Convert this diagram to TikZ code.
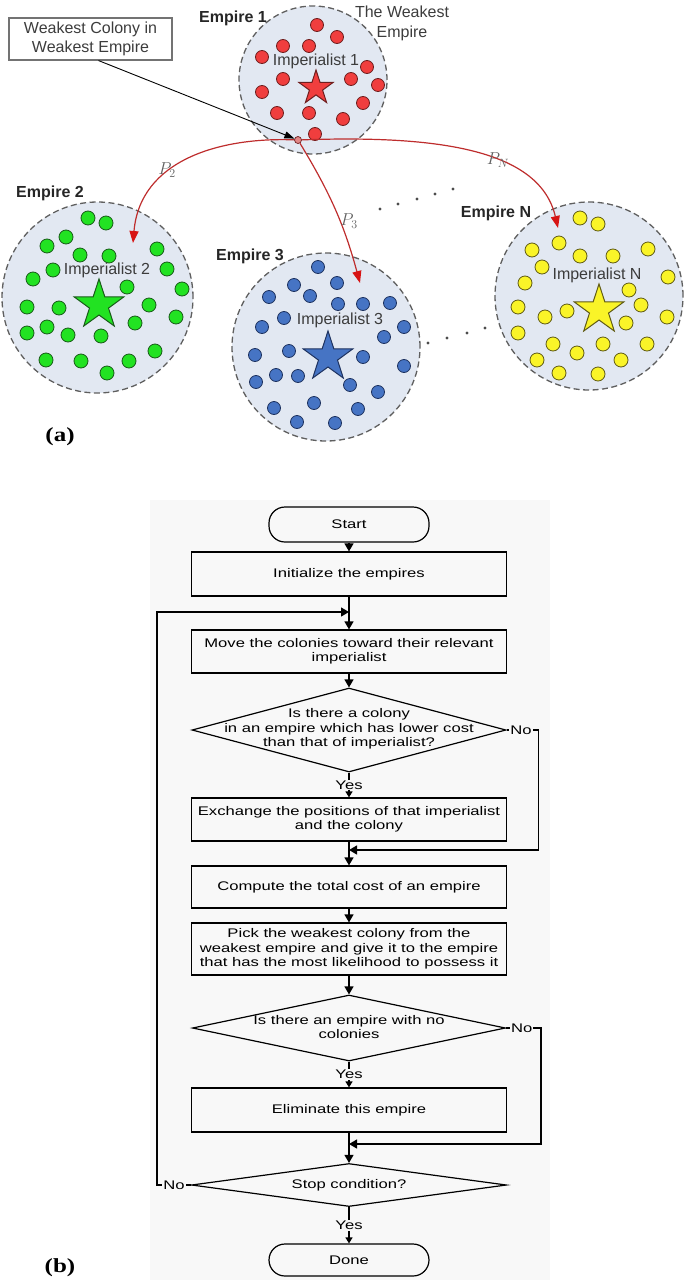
\documentclass[tikz,border=0pt]{standalone}
\usepackage{fontspec}
\setmainfont{Liberation Sans}
\newfontfamily\flowfont[FakeStretch=1.33]{Liberation Sans}
\newfontfamily\capfont[FakeStretch=1.25]{Liberation Serif}
\usetikzlibrary{shapes.geometric,arrows.meta}

\definecolor{empfill}{RGB}{226,232,242}
\definecolor{empline}{RGB}{95,95,95}
\definecolor{redfill}{RGB}{240,62,62}
\definecolor{redline}{RGB}{110,30,30}
\definecolor{grnfill}{RGB}{34,226,34}
\definecolor{grnline}{RGB}{25,90,25}
\definecolor{blufill}{RGB}{70,116,196}
\definecolor{bluline}{RGB}{30,50,95}
\definecolor{yelfill}{RGB}{250,244,40}
\definecolor{yelline}{RGB}{95,90,20}
\definecolor{pathred}{RGB}{190,45,45}
\definecolor{tipred}{RGB}{215,20,20}
\definecolor{txtgray}{RGB}{60,60,60}
\definecolor{flowbg}{RGB}{248,248,248}

\newcommand{\bigtext}{\fontsize{16}{19.5}\selectfont}
\newcommand{\flowtext}{\fontsize{12.5}{14.5}\selectfont\flowfont}

\tikzset{
  empire/.style={circle, draw=empline, fill=empfill, dash pattern=on 6pt off 3.5pt,
    line width=1.3pt, inner sep=0pt},
  imp/.style={star, star points=5, star point ratio=2.6, inner sep=0pt, line width=1pt},
  title/.style={font=\bigtext\bfseries, text=black!85},
  implabel/.style={font=\bigtext, text=txtgray},
  pathlbl/.style={font=\fontsize{18}{21}\selectfont, text=black!62},
  note/.style={draw=black!55, line width=1.1pt, minimum width=163pt, minimum height=42pt,
    align=center, font=\bigtext, text=txtgray},
  migrate/.style={draw=pathred, line width=1.2pt, -{Triangle[length=12pt,width=9pt,color=tipred]}},
  proc/.style={rectangle, draw, line width=1.2pt, minimum width=315pt, align=center, font=\flowtext},
  term/.style={rectangle, rounded corners=16pt, draw, line width=1.2pt, minimum width=160pt,
    font=\flowtext},
  decide/.style={diamond, draw, line width=1.2pt, inner sep=0pt},
  dtext/.style={align=center, font=\flowtext},
  flow/.style={line width=1.3pt, -{Triangle[length=8pt,width=9pt]}},
  yesflow/.style={line width=1.3pt, -{Triangle[length=6pt,width=7pt]}},
  flowlbl/.style={font=\flowtext, fill=flowbg, inner sep=1pt},
  sublbl/.style={font=\capfont\bfseries\fontsize{20}{23}\selectfont}
}

\begin{document}
\begin{tikzpicture}[x=1pt,y=-1pt]
\useasboundingbox (0,0) rectangle (685,1282);

%% (a) the empires
\node[empire, minimum size=148pt] (e1) at (313,80) {};
\node[empire, minimum size=191pt] (e2) at (97.5,297.5) {};
\node[empire, minimum size=188pt] (e3) at (326,347) {};
\node[empire, minimum size=188pt] (eN) at (589,296) {};

% colonies
\foreach \x/\y in {317/25,337/37,283/46,309/46,262/57,367/67,283/79,351/79,378/85,
    262/92,363/103,277/113,309/113,343/119,315/134}
  \filldraw[fill=redfill, draw=redline, line width=0.8pt] (\x,\y) circle (6.5);
\foreach \x/\y in {88/218,106/223,66/237,47/246,80/255,109/256,157/249,53/270,167/269,
    33/279,127/287,182/289,27/307,59/308,149/305,176/317,47/327,68/335,101/336,135/323,
    27/333,46/360,81/361,129/361,155/351,107/373}
  \filldraw[fill=grnfill, draw=grnline, line width=0.8pt] (\x,\y) circle (7);
\foreach \x/\y in {318/267,294/285,337/283,269/297,310/296,338/304,363/304,390/303,
    284/318,262/327,404/327,384/337,289/351,255/355,363/357,404/366,276/375,298/376,
    256/382,350/385,378/392,314/403,274/408,358/409,297/422,335/423}
  \filldraw[fill=blufill, draw=bluline, line width=0.8pt] (\x,\y) circle (6.5);
\foreach \x/\y in {580/218,598/224,559/243,532/250,580/256,613/256,648/249,542/267,
    668/277,525/283,629/290,641/305,518/307,545/317,567/311,626/323,667/317,518/333,
    553/344,577/353,603/344,647/344,537/360,559/373,598/374,621/360}
  \filldraw[fill=yelfill, draw=yelline, line width=0.8pt] (\x,\y) circle (7);

% imperialists
\node[imp, fill=redfill, draw=redline, minimum size=36pt] (s1) at (316,88) {};
\node[imp, fill=grnfill, draw=grnline, minimum size=52pt] (s2) at (99,305) {};
\node[imp, fill=blufill, draw=bluline, minimum size=52pt] (s3) at (328,357) {};
\node[imp, fill=yelfill, draw=yelline, minimum size=52pt] (sN) at (599,310) {};

%% Labels for the empires
\node[title] (t1) at (233,18) {Empire 1};
\node[title] (t2) at (50,193) {Empire 2};
\node[title] (t3) at (250,256) {Empire 3};
\node[title] (tN) at (496,213) {Empire N};
\node[implabel, align=center, font=\fontsize{16}{20}\selectfont] (weak) at (402,23) {The Weakest\\Empire};
\node[implabel] (i1) at (316,61) {Imperialist 1};
\node[implabel] (i2) at (107,270) {Imperialist 2};
\node[implabel] (i3) at (340,320) {Imperialist 3};
\node[implabel] (iN) at (597,275) {Imperialist N};

% the other empires
\foreach \x/\y in {380/209,398/204,417/199,435/194,453/189,428/343,447/338,467/333,485/328}
  \fill[black!70] (\x,\y) circle (1.6);

% weakest colony and where it can go
\node[circle, draw=redline, fill={rgb,255:red,225;green,135;blue,135}, minimum size=7pt,
  inner sep=0pt, line width=0.7pt] (wk) at (298,140) {};
\node[note] (note) at (90.5,39) {Weakest Colony in\\Weakest Empire};
\draw[line width=0.9pt, -{Triangle[length=10pt,width=7pt]}] ([xshift=8pt]note.south) -- (wk);
\coordinate (to2) at (133,243);
\coordinate (to3) at (360,283);
\coordinate (toN) at (558,228);
\draw[migrate] (wk) .. controls (220,137) and (140,160) .. (to2);
\draw[migrate] (wk) to[bend left=8] (to3);
\draw[migrate] (wk) .. controls (440,135) and (540,150) .. (toN);
\node[pathlbl] (p2) at (167,170) {$P_2$};
\node[pathlbl] (p3) at (349,221) {$P_3$};
\node[pathlbl] (pN) at (498,160) {$P_N$};

\node[sublbl] (capa) at (60,437) {(a)};

%% (b) the flowchart
\fill[flowbg] (150,500) rectangle (550,1280);
\node[term, minimum height=35pt] (start) at (349,524.5) {Start};
\node[proc, minimum height=44pt] (init) at (349,574) {Initialize the empires};
\node[proc, minimum height=43pt] (move) at (349,651.5) {Move the colonies toward their relevant\\imperialist};
\node[decide, minimum width=314pt, minimum height=84pt] (dec1) at (349,730) {};
\node[dtext] (dec1t) at (349,729) {Is there a colony\\in an empire which has lower cost\\than that of imperialist?};
\node[proc, minimum height=43pt] (exch) at (349,819.5) {Exchange the positions of that imperialist\\and the colony};
\node[proc, minimum height=42pt] (cost) at (349,887) {Compute the total cost of an empire};
\node[proc, minimum height=52pt] (pick) at (349,949) {Pick the weakest colony from the\\weakest empire and give it to the empire\\that has the most likelihood to possess it};
\node[decide, minimum width=313pt, minimum height=66pt] (dec2) at (349,1028) {};
\node[dtext] (dec2t) at (349,1027) {Is there an empire with no\\colonies};
\node[proc, minimum height=44pt] (elim) at (349,1110) {Eliminate this empire};
\node[decide, minimum width=315pt, minimum height=43pt] (dec3) at (349,1185) {};
\node[dtext] (dec3t) at (349,1185) {Stop condition?};
\node[term, minimum height=32pt] (done) at (349,1260) {Done};

\coordinate (j0) at (349,612);
\coordinate (j1) at (349,850);
\coordinate (j2) at (349,1144);

\draw[flow] (start) -- (init);
\draw[flow] (init) -- (move);
\draw[flow] (move) -- (dec1);
\draw[yesflow] (dec1.south) -- node[flowlbl]{Yes} (exch);
\draw[flow] (dec1.east) -- node[flowlbl, pos=0.45]{No} ++(32,0) |- (j1);
\draw[flow] (exch) -- (cost);
\draw[flow] (cost) -- (pick);
\draw[flow] (pick) -- (dec2.north);
\draw[yesflow] (dec2.south) -- node[flowlbl]{Yes} (elim);
\draw[flow] (dec2.east) -- node[flowlbl, pos=0.45]{No} ++(35,0) |- (j2);
\draw[flow] (elim) -- (dec3.north);
\draw[yesflow] (dec3.south) -- node[flowlbl]{Yes} (done);
\draw[flow] (dec3.west) -- node[flowlbl]{No} ++(-34,0) |- (j0);

\node[sublbl] (capb) at (60,1268) {(b)};
\end{tikzpicture}
\end{document}
